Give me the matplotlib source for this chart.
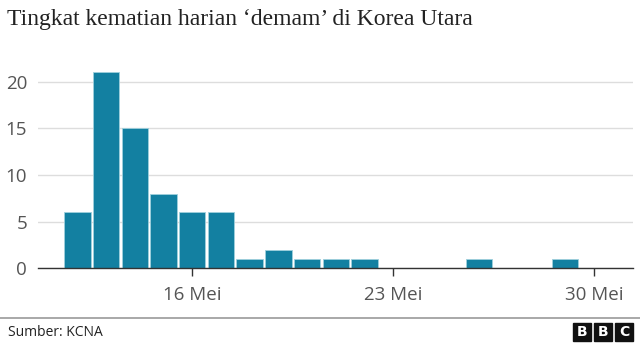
import matplotlib
matplotlib.use("Agg")
import matplotlib.pyplot as plt
from matplotlib.patches import Rectangle

days = [12, 13, 14, 15, 16, 17, 18, 19, 20, 21, 22, 26, 29]
deaths = [6, 21, 15, 8, 6, 6, 1, 2, 1, 1, 1, 1, 1]
tick_days = [16, 23, 30]
tick_labels = ["16 Mei", "23 Mei", "30 Mei"]
y_ticks = [0, 5, 10, 15, 20]

title = "Tingkat kematian harian \u2018demam\u2019 di Korea Utara"
source = "Sumber: KCNA"

fig = plt.figure(figsize=(6.4, 3.47), dpi=100)
ax = fig.add_axes([0.0598, 0.2268, 0.929, 0.565])

ax.bar(days, deaths, width=0.92, color="#1380A1", edgecolor="#9fd0dd", linewidth=0.6, zorder=3)
ax.set_xlim(10.63, 31.36)
ax.set_ylim(0, 21)
ax.set_yticks(y_ticks)
ax.set_yticklabels([str(v) for v in y_ticks])
ax.set_xticks(tick_days)
ax.set_xticklabels(tick_labels)

for s in ["top", "right", "left"]:
    ax.spines[s].set_visible(False)
ax.spines["bottom"].set_color("#333333")
ax.spines["bottom"].set_linewidth(1.0)
ax.spines["bottom"].set_zorder(4)

ax.yaxis.grid(True, color="#dddddd", linewidth=1.0, zorder=0)
ax.tick_params(axis="y", length=0, pad=8, labelsize=13.5, labelcolor="#555555")
ax.tick_params(axis="x", length=6, width=1, color="#333333", pad=7, labelsize=13.5, labelcolor="#555555")
for lab in ax.get_xticklabels() + ax.get_yticklabels():
    lab.set_fontfamily("Open Sans")

fig.text(7/640, 1 - 20/347, title, fontsize=17, family="Liberation Serif", color="#222222", va="center", ha="left")

fig.add_artist(plt.Line2D([0, 1], [1 - 318/347, 1 - 318/347], color="#999999", linewidth=1.2, transform=fig.transFigure))
fig.text(8/640, 1 - 332/347, source, fontsize=10, family="Open Sans", color="#222222", va="center", ha="left")

# BBC logo
for i, ch in enumerate("BBC"):
    x0 = 573 + i * 21
    fig.add_artist(Rectangle((x0/640, 1 - 341/347), 18/640, 18/347, transform=fig.transFigure, color="#111111"))
    fig.text((x0 + 9)/640, 1 - 332/347, ch, fontsize=10, weight="bold", family="DejaVu Sans", color="white", ha="center", va="center")

fig.savefig("out.png", dpi=100)
